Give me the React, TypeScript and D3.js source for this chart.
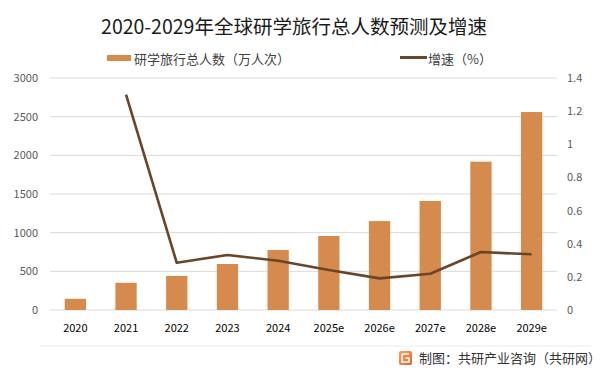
import React from "react";
import * as d3 from "d3";

// chart data
const years = ["2020", "2021", "2022", "2023", "2024", "2025e", "2026e", "2027e", "2028e", "2029e"];
const travellers = [145, 352, 440, 595, 776, 957, 1150, 1410, 1918, 2560]; // 万人次
const growth = [null, 1.3, 0.285, 0.332, 0.297, 0.241, 0.191, 0.219, 0.35, 0.336];
const leftTicks = [0, 500, 1000, 1500, 2000, 2500, 3000];
const rightTicks = [0, 0.2, 0.4, 0.6, 0.8, 1, 1.2, 1.4];

const W = 601;
const H = 374;
const font = "'Noto Sans CJK SC', 'Noto Sans', sans-serif";
const barColor = "#D48B4D";
const lineColor = "#6B4528";

const App = () => {
  const margin = { left: 50, right: 44, top: 78, bottom: 64 };

  const x = d3.scaleBand()
    .domain(years)
    .range([margin.left, W - margin.right])
    .paddingInner(0.58)
    .paddingOuter(0.29);

  const yLeft = d3.scaleLinear().domain([0, 3000]).range([H - margin.bottom, margin.top]);
  const yRight = d3.scaleLinear().domain([0, 1.4]).range([H - margin.bottom, margin.top]);

  const line = d3.line<number | null>()
    .defined((d) => d !== null)
    .x((_, i) => x(years[i])! + x.bandwidth() / 2)
    .y((d) => yRight(d as number));

  return (
    <svg width={W} height={H} style={{ position: "absolute", left: 0, top: 0, background: "#fff" }} fontFamily={font}>
      {/* title */}
      <text x={294} y={34} textAnchor="middle" fontSize={19.5} fill="#1a1a1a">
        2020-2029年全球研学旅行总人数预测及增速
      </text>

      {/* legend */}
      <rect x={107} y={55} width={24} height={6} fill={barColor} />
      <text x={134} y={63.5} fontSize={13} fill="#404040">研学旅行总人数（万人次）</text>
      <line x1={400} x2={427} y1={57.5} y2={57.5} stroke={lineColor} strokeWidth={3} />
      <text x={428} y={63.5} fontSize={13} fill="#404040">增速（%）</text>

      {/* grid */}
      {leftTicks.map((t) => (
        <line key={t} x1={margin.left} x2={W - margin.right} y1={yLeft(t)} y2={yLeft(t)} stroke="#d9d9d9" strokeWidth={1} />
      ))}

      {/* left axis labels */}
      {leftTicks.map((t) => (
        <text key={t} x={38} y={yLeft(t) + 4} textAnchor="end" fontSize={11} fill="#595959">{t}</text>
      ))}

      {/* right axis labels */}
      {rightTicks.map((t) => (
        <text key={t} x={567} y={yRight(t) + 4} textAnchor="start" fontSize={11} fill="#595959">{t}</text>
      ))}

      {/* bars */}
      {travellers.map((v, i) => (
        <rect key={years[i]} x={x(years[i])} y={yLeft(v)} width={x.bandwidth()} height={yLeft(0) - yLeft(v)} fill={barColor} />
      ))}

      {/* growth line */}
      <path d={line(growth) || ""} fill="none" stroke={lineColor} strokeWidth={2.6} strokeLinejoin="round" />

      {/* x labels */}
      {years.map((y) => (
        <text key={y} x={x(y)! + x.bandwidth() / 2} y={332} textAnchor="middle" fontSize={11} fill="#000">{y}</text>
      ))}

      {/* footer */}
      <line x1={40} x2={591} y1={346} y2={346} stroke="#ececec" strokeWidth={1} />
      <defs>
        <linearGradient id="logoGrad" x1="0" y1="0" x2="1" y2="1">
          <stop offset="0%" stopColor="#f6a35c" />
          <stop offset="100%" stopColor="#e8602c" />
        </linearGradient>
      </defs>
      <rect x={399} y={351} width={13} height={14} rx={2} fill="url(#logoGrad)" />
      <path d="M402 354 H409 M402 354 V362 H409 V358 H405.5" fill="none" stroke="#fff" strokeWidth={1.6} />
      <text x={419} y={363} fontSize={13} fill="#333">制图：共研产业咨询（共研网）</text>
    </svg>
  );
};

export default App;
